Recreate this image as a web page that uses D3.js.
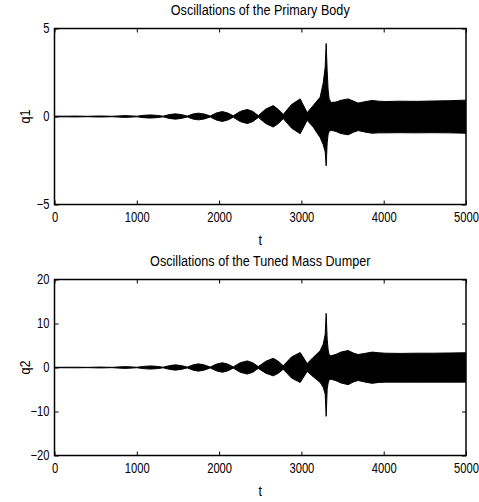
<!DOCTYPE html>
<html>
<head>
<meta charset="utf-8">
<script src="https://cdn.jsdelivr.net/npm/d3@7"></script>
<style>
  html, body { margin: 0; padding: 0; background: #fff; }
  svg text { font-family: "Liberation Sans", Arial, Helvetica, sans-serif; fill: #000; }
</style>
</head>
<body>
<svg id="chart" width="479" height="502"></svg>
<script>
// ---- Data (envelope of the oscillations) ----
const t = [0, 150, 255, 400, 480, 558, 630, 700, 780, 862, 930, 1000, 1080, 1165, 1240, 1320,
  1395, 1468, 1540, 1614, 1680, 1748, 1820, 1893, 1966, 2039, 2105, 2172, 2257, 2342, 2410, 2476,
  2567, 2658, 2720, 2779, 2880, 2985, 3070, 3143, 3228, 3265, 3289, 3301, 3313, 3325, 3337, 3360,
  3420, 3480, 3568, 3630, 3689, 3770, 3859, 3940, 4017, 4200, 4400, 4600, 4800, 5000];

const q1Upper = [0.02, 0.02, 0.025, 0.012, 0.022, 0.03, 0.022, 0.012, 0.035, 0.05, 0.035, 0.015, 0.065, 0.09, 0.065, 0.02,
  0.11, 0.15, 0.11, 0.025, 0.14, 0.19, 0.14, 0.03, 0.2, 0.28, 0.2, 0.04, 0.29, 0.4, 0.29, 0.05,
  0.42, 0.62, 0.4, 0.12, 0.68, 1.0, 0.22, 0.62, 1.1, 1.9, 2.8, 4.15, 2.6, 1.5, 1.0, 0.8,
  0.82, 0.92, 1.0, 0.88, 0.76, 0.84, 0.91, 0.87, 0.85, 0.87, 0.86, 0.88, 0.9, 0.93];

const q1Lower = [-0.02, -0.02, -0.025, -0.012, -0.022, -0.03, -0.022, -0.012, -0.035, -0.05, -0.035, -0.015, -0.065, -0.09, -0.065, -0.02,
  -0.11, -0.15, -0.11, -0.025, -0.14, -0.19, -0.14, -0.03, -0.2, -0.28, -0.2, -0.04, -0.29, -0.4, -0.29, -0.05,
  -0.4, -0.6, -0.4, -0.12, -0.66, -0.98, -0.22, -0.6, -1.2, -1.6, -2.0, -2.8, -1.5, -1.0, -0.85, -0.78,
  -0.85, -0.97, -1.04, -0.9, -0.8, -0.88, -0.95, -0.93, -0.93, -0.92, -0.93, -0.92, -0.93, -0.95];

const q2Upper = [0.05, 0.06, 0.07, 0.03, 0.07, 0.1, 0.07, 0.03, 0.14, 0.2, 0.14, 0.05, 0.25, 0.36, 0.26, 0.07,
  0.42, 0.6, 0.43, 0.09, 0.58, 0.83, 0.59, 0.11, 0.76, 1.08, 0.77, 0.14, 1.08, 1.5, 1.07, 0.2,
  1.4, 2.1, 1.4, 0.4, 2.4, 3.4, 0.9, 2.3, 3.8, 5.3, 7.5, 12.3, 6.5, 4.0, 2.9, 2.65,
  3.0, 3.5, 3.86, 3.3, 2.95, 3.2, 3.5, 3.35, 3.25, 3.2, 3.25, 3.25, 3.3, 3.35];

const q2Lower = [-0.05, -0.06, -0.07, -0.03, -0.07, -0.1, -0.07, -0.03, -0.14, -0.2, -0.14, -0.05, -0.25, -0.36, -0.26, -0.07,
  -0.42, -0.6, -0.43, -0.09, -0.58, -0.83, -0.59, -0.11, -0.76, -1.08, -0.77, -0.14, -1.08, -1.5, -1.07, -0.2,
  -1.3, -1.9, -1.3, -0.4, -2.4, -3.4, -0.9, -2.1, -3.4, -4.5, -6.0, -11.1, -5.0, -3.5, -2.8, -2.65,
  -3.0, -3.5, -3.9, -3.3, -2.95, -3.3, -3.6, -3.4, -3.33, -3.33, -3.33, -3.33, -3.33, -3.33];

const xTicks = [0, 1000, 2000, 3000, 4000, 5000];
const q1Ticks = [-5, 0, 5];
const q2Ticks = [-20, -10, 0, 10, 20];

const panels = [
  { title: "Oscillations of the Primary Body", ylabel: "q1", upper: q1Upper, lower: q1Lower,
    domain: [-5, 5], ticks: q1Ticks, top: 28.5, bottom: 204.5 },
  { title: "Oscillations of the Tuned Mass Dumper", ylabel: "q2", upper: q2Upper, lower: q2Lower,
    domain: [-20, 20], ticks: q2Ticks, top: 279.5, bottom: 455.5 }
];

// ---- Drawing ----
const svg = d3.select("#chart");
const left = 54.5, right = 466;
const tickLen = 4;
const fs = 14, fsTitle = 15.4;
const kTick = 0.8, kLabel = 0.82; // horizontal squeeze to emulate condensed Helvetica

// squeeze a text horizontally around its own anchor point
function squeeze(k) {
  return sel => sel.each(function () {
    const s = d3.select(this);
    const x0 = +(s.attr("x") || 0);
    s.attr("x", x0 / k).attr("transform", `scale(${k},1)`);
  });
}

panels.forEach((p, i) => {
  const x = d3.scaleLinear().domain([0, 5000]).range([left, right]);
  const y = d3.scaleLinear().domain(p.domain).range([p.bottom, p.top]);
  const g = svg.append("g");

  const clipId = "clip" + i;
  svg.append("clipPath").attr("id", clipId)
    .append("rect").attr("x", left).attr("y", p.top).attr("width", right - left).attr("height", p.bottom - p.top);

  const data = t.map((tv, k) => ({ t: tv, hi: p.upper[k], lo: p.lower[k] }));
  const area = d3.area().x(d => x(d.t)).y0(d => y(d.lo)).y1(d => y(d.hi)).curve(d3.curveLinear);

  g.append("path").datum(data)
    .attr("clip-path", `url(#${clipId})`)
    .attr("d", area)
    .attr("fill", "#000").attr("stroke", "#000").attr("stroke-width", 1).attr("stroke-linejoin", "round");

  // axes (MATLAB-style box with inward ticks)
  const axB = d3.axisBottom(x).tickValues(xTicks).tickSize(-tickLen).tickPadding(8).tickFormat(d3.format("d"));
  const axT = d3.axisTop(x).tickValues(xTicks).tickSize(-tickLen).tickFormat("");
  const axL = d3.axisLeft(y).tickValues(p.ticks).tickSize(-tickLen).tickPadding(5)
    .tickFormat(d => d < 0 ? "\u2212" + Math.abs(d) : d);
  const axR = d3.axisRight(y).tickValues(p.ticks).tickSize(-tickLen).tickFormat("");

  const styleAxis = sel => {
    sel.select(".domain").remove();
    sel.selectAll(".tick line").attr("stroke", "#000").attr("stroke-width", 1);
    sel.selectAll("text").attr("font-size", fs).attr("fill", "#000")
      .style("font-family", '"Liberation Sans", Arial, Helvetica, sans-serif')
      .call(squeeze(kTick));
  };
  g.append("g").attr("transform", `translate(0,${p.bottom})`).call(axB).call(styleAxis);
  g.append("g").attr("transform", `translate(0,${p.top})`).call(axT).call(styleAxis);
  g.append("g").attr("transform", `translate(${left},0)`).call(axL).call(styleAxis);
  g.append("g").attr("transform", `translate(${right},0)`).call(axR).call(styleAxis);

  g.append("rect").attr("x", left).attr("y", p.top).attr("width", right - left).attr("height", p.bottom - p.top)
    .attr("fill", "none").attr("stroke", "#000").attr("stroke-width", 1.5);

  const cx = (left + right) / 2;
  g.append("text").attr("x", cx).attr("y", p.top - 13.5).attr("text-anchor", "middle")
    .attr("font-size", fsTitle).text(p.title).call(squeeze(kLabel));
  g.append("text").attr("x", cx).attr("y", p.bottom + 40.5).attr("text-anchor", "middle")
    .attr("font-size", fsTitle).text("t").call(squeeze(kLabel));
  g.append("text").attr("transform", `translate(30,${(p.top + p.bottom) / 2}) rotate(-90) scale(${kLabel},1)`)
    .attr("text-anchor", "middle").attr("font-size", fsTitle).text(p.ylabel);
});
</script>
</body>
</html>
